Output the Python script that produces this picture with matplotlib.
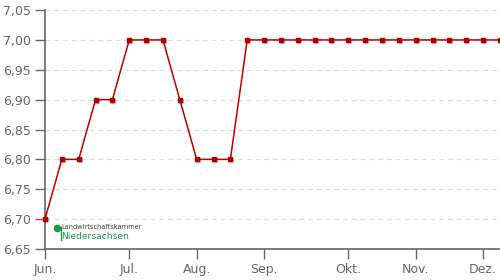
import matplotlib
matplotlib.use("Agg")
import matplotlib.pyplot as plt
from matplotlib.ticker import FuncFormatter

values = [6.70, 6.80, 6.80, 6.90, 6.90, 7.00, 7.00, 7.00, 6.90, 6.80, 6.80, 6.80,
          7.00, 7.00, 7.00, 7.00, 7.00, 7.00, 7.00, 7.00, 7.00, 7.00, 7.00, 7.00,
          7.00, 7.00, 7.00, 7.00]
month_labels = ["Jun.", "Jul.", "Aug.", "Sep.", "Okt.", "Nov.", "Dez."]
month_pos = [0, 5, 9, 13, 18, 22, 26]
yticks = [6.65, 6.70, 6.75, 6.80, 6.85, 6.90, 6.95, 7.00, 7.05]

fig = plt.figure(figsize=(5, 2.8), dpi=100)
ax = fig.add_axes([0.09, 0.111, 0.91, 0.853])
x = list(range(len(values)))
ax.plot([i + 0.06 for i in x], [v - 0.0015 for v in values], linestyle="none",
        marker="s", markersize=2.6, color="#999999", alpha=0.5, zorder=2)
ax.plot(x, values, color="#c00000", linewidth=1.1, marker="s", markersize=2.3,
        markerfacecolor="#b00000", markeredgecolor="#b00000", zorder=3, clip_on=False)
ax.set_xlim(0, 27)
ax.set_ylim(6.65, 7.05)
ax.set_yticks(yticks)
ax.yaxis.set_major_formatter(FuncFormatter(lambda v, p: f"{v:.2f}".replace(".", ",")))
ax.set_xticks(month_pos)
ax.set_xticklabels(month_labels)
ax.grid(axis="y", linestyle=(0, (4, 3)), color="#dddddd", linewidth=0.9)
ax.set_axisbelow(True)
for s in ["top", "right"]:
    ax.spines[s].set_visible(False)
for s in ["left", "bottom"]:
    ax.spines[s].set_color("#666666")
    ax.spines[s].set_linewidth(1.2)
ax.tick_params(axis="both", colors="#666666", labelcolor="#666666", labelsize=9,
               length=7, width=1)
ax.tick_params(axis="x", pad=3)
ax.tick_params(axis="y", pad=3)

# logo
fig.add_artist(matplotlib.lines.Line2D([57/500], [1-228/280], marker="o", markersize=4.5,
                                       color="#1a9a48", linestyle="none",
                                       transform=fig.transFigure))
fig.add_artist(matplotlib.lines.Line2D([60.5/500, 60.5/500], [1-227/280, 1-240/280],
                                       color="#1a9a48", linewidth=1, transform=fig.transFigure))
fig.text(61/500, 1-227/280, "Landwirtschaftskammer", fontsize=4.8, color="#444444",
         va="center", ha="left")
fig.text(61.5/500, 1-236.5/280, "Niedersachsen", fontsize=6.6, color="#1a9a48",
         va="center", ha="left")

fig.savefig("out.png", dpi=100)
